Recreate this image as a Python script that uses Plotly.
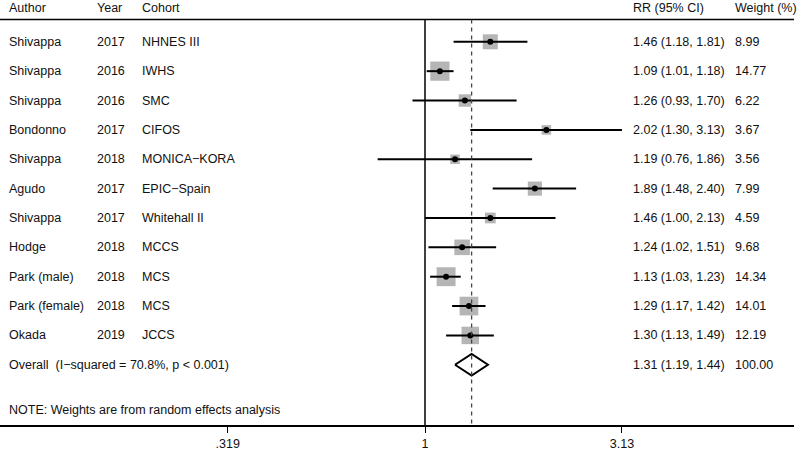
import math
import plotly.graph_objects as go

# ---- data ----
authors = ["Shivappa", "Shivappa", "Shivappa", "Bondonno", "Shivappa", "Agudo",
           "Shivappa", "Hodge", "Park (male)", "Park (female)", "Okada"]
years = ["2017", "2016", "2016", "2017", "2018", "2017", "2017", "2018", "2018", "2018", "2019"]
cohorts = ["NHNES III", "IWHS", "SMC", "CIFOS", "MONICA\u2212KORA", "EPIC\u2212Spain",
           "Whitehall II", "MCCS", "MCS", "MCS", "JCCS"]
rr = [1.46, 1.09, 1.26, 2.02, 1.19, 1.89, 1.46, 1.24, 1.13, 1.29, 1.30]
lo = [1.18, 1.01, 0.93, 1.30, 0.76, 1.48, 1.00, 1.02, 1.03, 1.17, 1.13]
hi = [1.81, 1.18, 1.70, 3.13, 1.86, 2.40, 2.13, 1.51, 1.23, 1.42, 1.49]
weights = [8.99, 14.77, 6.22, 3.67, 3.56, 7.99, 4.59, 9.68, 14.34, 14.01, 12.19]

overall_rr, overall_lo, overall_hi, overall_w = 1.31, 1.19, 1.44, 100.00
overall_label = "Overall  (I\u2212squared = 70.8%, p < 0.001)"
note = "NOTE: Weights are from random effects analysis"
headers = ["Author", "Year", "Cohort", "RR (95% CI)", "Weight (%)"]
tick_vals = [0.319, 1, 3.13]
tick_text = [".319", "1", "3.13"]

# ---- layout constants ----
FONT = "Liberation Sans, Arial, sans-serif"
FS = 12.5
TXT = "#111111"
W, H = 800, 451
ML, MR, MB, MT = 0, 6, 24, 0
row_top_px, row_step = 42.0, 29.5
plot_h = H - MB - MT
y_top = -row_top_px / row_step
y_bot = (plot_h - row_top_px) / row_step
n = len(rr)
rows = list(range(n))
overall_row = n
header_row = (8 - row_top_px) / row_step
hline_row = (19.5 - row_top_px) / row_step
note_row = (412 - row_top_px) / row_step

px_per_ln = 172.6
x0_px = 425.0
plot_w = W - ML - MR
xr = [(-x0_px / px_per_ln) / math.log(10), ((plot_w - x0_px) / px_per_ln) / math.log(10)]

fig = go.Figure()

# weight squares
fig.add_trace(go.Scatter(
    x=rr, y=rows, mode="markers",
    marker=dict(symbol="square", size=[5.0 * math.sqrt(w) for w in weights],
                color="#969696", line=dict(width=0)),
    hoverinfo="skip", showlegend=False))

# CI lines
cx, cy = [], []
for r, a, b in zip(rows, lo, hi):
    cx += [a, b, None]
    cy += [r, r, None]
fig.add_trace(go.Scatter(x=cx, y=cy, mode="lines", line=dict(color="black", width=2),
                         hoverinfo="skip", showlegend=False))

# point estimates
fig.add_trace(go.Scatter(x=rr, y=rows, mode="markers",
                         marker=dict(symbol="circle", size=6, color="black"),
                         hoverinfo="skip", showlegend=False))

# overall diamond
dh = 0.37
fig.add_trace(go.Scatter(
    x=[overall_lo, overall_rr, overall_hi, overall_rr, overall_lo],
    y=[overall_row, overall_row - dh, overall_row, overall_row + dh, overall_row],
    mode="lines", line=dict(color="black", width=2),
    hoverinfo="skip", showlegend=False))

shapes = [
    dict(type="line", xref="paper", yref="y", x0=0, x1=1, y0=hline_row, y1=hline_row,
         line=dict(color="black", width=1.5)),
    dict(type="line", xref="x", yref="y", x0=1, x1=1, y0=hline_row, y1=y_bot,
         line=dict(color="black", width=1.5)),
    dict(type="line", xref="x", yref="y", x0=overall_rr, x1=overall_rr, y0=hline_row, y1=y_bot,
         line=dict(color="#444444", width=1.3, dash="4px,4px")),
]

col_px = [9, 97, 142, 633, 735]
col_x = [(p - ML) / plot_w for p in col_px]

ann = []
def add_text(xp, y, t):
    ann.append(dict(x=xp, y=y, xref="paper", yref="y", text=t, showarrow=False,
                    xanchor="left", yanchor="middle", borderpad=0, xshift=-1,
                    font=dict(family=FONT, size=FS, color=TXT)))

for cx_, h in zip(col_x, headers):
    add_text(cx_, header_row, h)
for r in rows:
    add_text(col_x[0], r, authors[r])
    add_text(col_x[1], r, years[r])
    add_text(col_x[2], r, cohorts[r])
    add_text(col_x[3], r, f"{rr[r]:.2f} ({lo[r]:.2f}, {hi[r]:.2f})")
    add_text(col_x[4], r, f"{weights[r]:.2f}")
add_text(col_x[0], overall_row, overall_label)
add_text(col_x[3], overall_row, f"{overall_rr:.2f} ({overall_lo:.2f}, {overall_hi:.2f})")
add_text(col_x[4], overall_row, f"{overall_w:.2f}")
add_text(col_x[0], note_row, note)

fig.update_layout(
    width=W, height=H,
    margin=dict(l=ML, r=MR, t=MT, b=MB),
    paper_bgcolor="white", plot_bgcolor="white",
    shapes=shapes, annotations=ann, showlegend=False,
    xaxis=dict(type="log", range=xr, tickvals=tick_vals, ticktext=tick_text,
               ticks="outside", ticklen=6, tickwidth=1.3, tickcolor="black",
               showline=True, linecolor="black", linewidth=1.5, showgrid=False,
               zeroline=False, fixedrange=True,
               tickfont=dict(family=FONT, size=FS, color=TXT)),
    yaxis=dict(range=[y_bot, y_top], visible=False, showgrid=False, zeroline=False,
               fixedrange=True),
)

fig.write_html("out.html", config={"displayModeBar": False},
               post_script="document.body.style.margin='0';document.body.style.padding='0';")
